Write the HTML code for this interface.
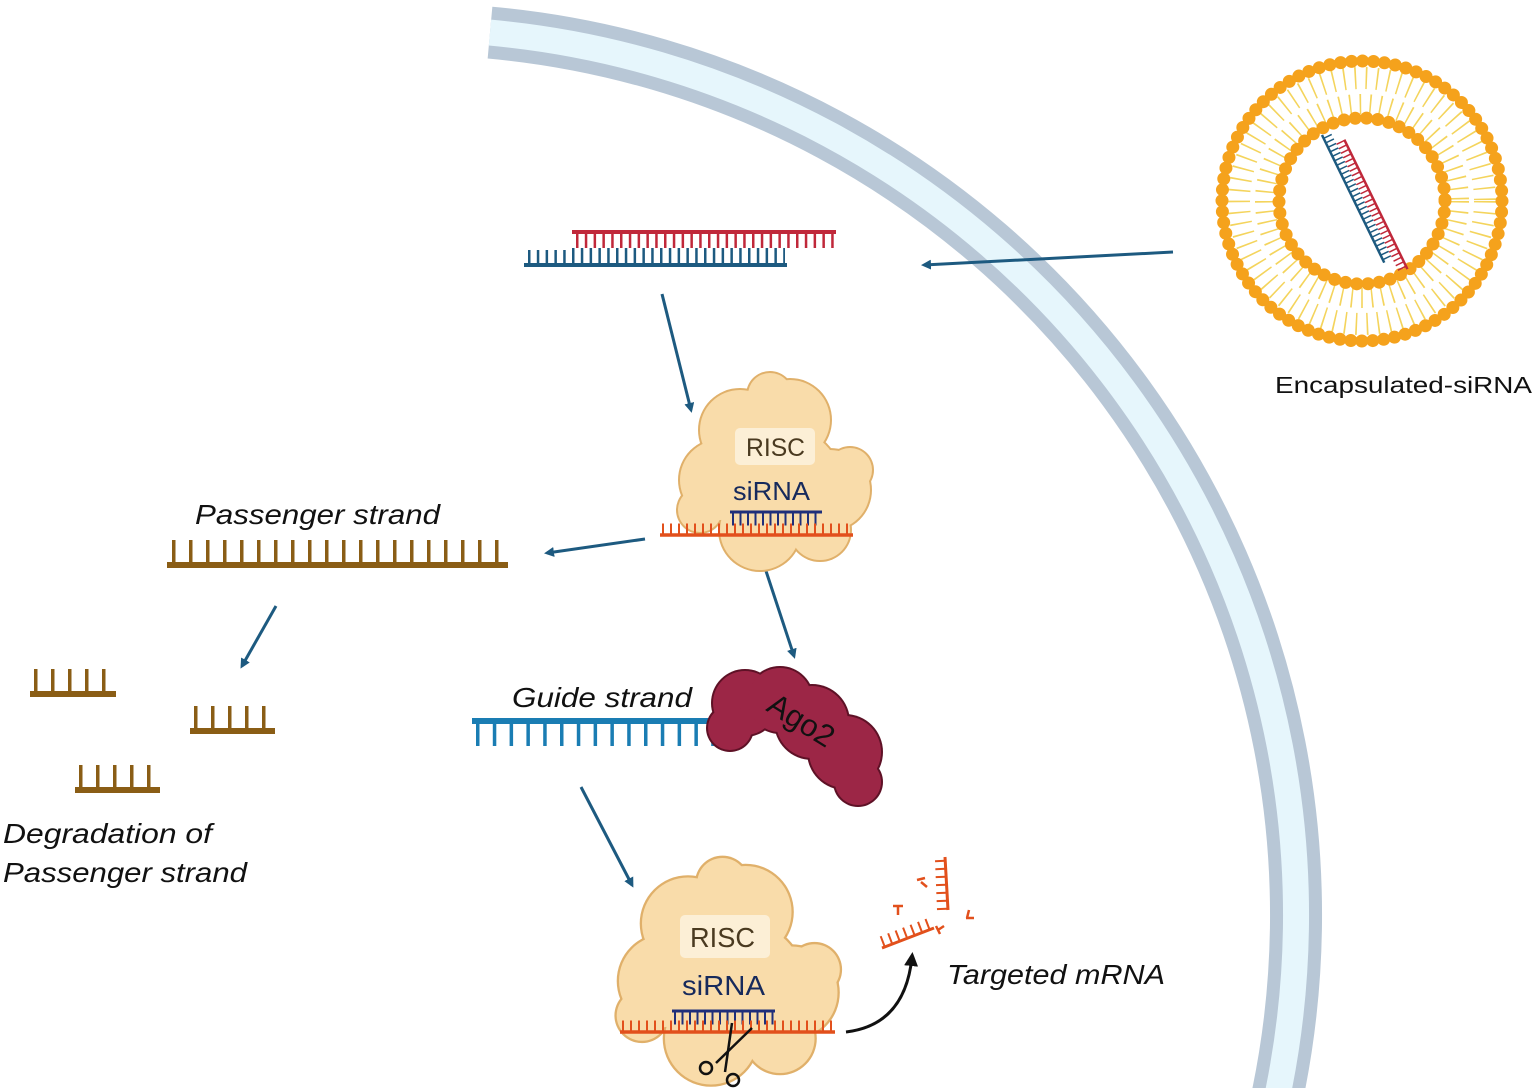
<!DOCTYPE html>
<html><head><meta charset="utf-8"><style>
html,body{margin:0;padding:0;background:#fff;overflow:hidden}
svg{display:block}
text{font-family:"Liberation Sans",sans-serif}
</style></head><body>
<svg width="1535" height="1088" viewBox="0 0 1535 1088" xmlns="http://www.w3.org/2000/svg">
<defs>
<marker id="ah" markerWidth="10" markerHeight="10" refX="7" refY="5" orient="auto" markerUnits="userSpaceOnUse">
<path d="M0,0 L10,5 L0,10 z" fill="#1d5a80"/></marker>
<marker id="ahk" markerWidth="14" markerHeight="14" refX="9" refY="7" orient="auto" markerUnits="userSpaceOnUse">
<path d="M0,0 L14,7 L0,14 z" fill="#111"/></marker>
</defs>
<!-- membrane -->
<path d="M490,32.6 A886,886 0 0 1 1276.5,1100" fill="none" stroke="#b8c7d6" stroke-width="52"/>
<path d="M490,32.6 A886,886 0 0 1 1276.5,1100" fill="none" stroke="#e6f6fc" stroke-width="26"/>

<!-- liposome -->
<g>
<circle cx="1362" cy="201" r="123" fill="none" stroke="#f4d45c" stroke-width="22" stroke-dasharray="1.6 9.4"/>
<circle cx="1362" cy="201" r="97" fill="none" stroke="#f4d45c" stroke-width="20" stroke-dasharray="1.6 8.5"/>
<circle cx="1362" cy="201" r="140" fill="none" stroke="#f5a21c" stroke-width="13" stroke-linecap="round" stroke-dasharray="0 11"/>
<circle cx="1362" cy="201" r="83" fill="none" stroke="#f5a21c" stroke-width="13" stroke-linecap="round" stroke-dasharray="0 11.3"/>
<g transform="translate(1322,135) rotate(64)">
<line x1="0" y1="0" x2="142" y2="0" stroke="#1d5a80" stroke-width="2.5"/>
<line x1="3" y1="-4.5" x2="142" y2="-4.5" stroke="#1d5a80" stroke-width="9" stroke-dasharray="1.5 3.5"/>
<line x1="14" y1="-18" x2="158" y2="-18" stroke="#c0283a" stroke-width="2.5"/>
<line x1="14" y1="-13.5" x2="158" y2="-13.5" stroke="#c0283a" stroke-width="9" stroke-dasharray="1.5 3.5"/>
</g>
</g>
<text x="1275" y="393" font-size="23" fill="#111" textLength="257" lengthAdjust="spacingAndGlyphs">Encapsulated-siRNA</text>

<!-- top siRNA -->
<line x1="572" y1="232" x2="836" y2="232" stroke="#c0283a" stroke-width="4"/>
<line x1="576" y1="240" x2="836" y2="240" stroke="#c0283a" stroke-width="16" stroke-dasharray="2.5 6.3"/>
<line x1="524" y1="265" x2="787" y2="265" stroke="#1d5a80" stroke-width="4"/>
<line x1="528" y1="256" x2="785" y2="256" stroke="#1d5a80" stroke-width="16" stroke-dasharray="2.5 6.3"/>
<rect x="520" y="242" width="50" height="8" fill="#fff"/>

<!-- arrows -->
<g stroke="#1d5a80" stroke-width="3" marker-end="url(#ah)">
<line x1="1173" y1="252" x2="924" y2="265"/>
<line x1="662" y1="294" x2="691" y2="410"/>
<line x1="645" y1="539" x2="547" y2="553"/>
<line x1="766" y1="571" x2="794" y2="656"/>
<line x1="276" y1="606" x2="242" y2="666"/>
<line x1="581" y1="787" x2="632" y2="885"/>
</g>

<!-- RISC 1 -->
<g id="risc">
<g fill="#e0b06a">
<circle cx="740" cy="430" r="42"/><circle cx="790" cy="420" r="42"/><circle cx="770" cy="395" r="24"/>
<circle cx="720" cy="480" r="42"/><circle cx="790" cy="480" r="52"/><circle cx="830" cy="490" r="42"/>
<circle cx="760" cy="530" r="42"/><circle cx="820" cy="530" r="32"/><circle cx="700" cy="510" r="24"/><circle cx="850" cy="470" r="24"/>
</g>
<g fill="#f9dcaa">
<circle cx="740" cy="430" r="40"/><circle cx="790" cy="420" r="40"/><circle cx="770" cy="395" r="22"/>
<circle cx="720" cy="480" r="40"/><circle cx="790" cy="480" r="50"/><circle cx="830" cy="490" r="40"/>
<circle cx="760" cy="530" r="40"/><circle cx="820" cy="530" r="30"/><circle cx="700" cy="510" r="22"/><circle cx="850" cy="470" r="22"/>
</g>
</g>
<rect x="735" y="428" width="80" height="37" rx="5" fill="#fcefd6"/>
<text x="746" y="456" font-size="25" fill="#4a3a20" textLength="59" lengthAdjust="spacingAndGlyphs">RISC</text>
<text x="733" y="500" font-size="26" fill="#172a5c" textLength="77" lengthAdjust="spacingAndGlyphs">siRNA</text>
<line x1="730" y1="512" x2="822" y2="512" stroke="#1f2f7a" stroke-width="3"/>
<line x1="732" y1="519" x2="822" y2="519" stroke="#1f2f7a" stroke-width="13" stroke-dasharray="2 5.5"/>
<line x1="660" y1="535" x2="853" y2="535" stroke="#e2501c" stroke-width="3.5"/>
<line x1="662" y1="529" x2="853" y2="529" stroke="#e2501c" stroke-width="11" stroke-dasharray="2 6"/>

<!-- passenger strand -->
<text x="195" y="524" font-size="28" font-style="italic" fill="#111" textLength="245" lengthAdjust="spacingAndGlyphs">Passenger strand</text>
<line x1="167" y1="565" x2="508" y2="565" stroke="#8a5d15" stroke-width="6"/>
<line x1="172" y1="552" x2="508" y2="552" stroke="#8a5d15" stroke-width="24" stroke-dasharray="3.5 13.5"/>
<g stroke="#8a5d15">
<line x1="30" y1="694" x2="116" y2="694" stroke-width="6"/><line x1="34" y1="681" x2="116" y2="681" stroke-width="24" stroke-dasharray="3.5 13.5"/>
<line x1="190" y1="731" x2="275" y2="731" stroke-width="6"/><line x1="194" y1="718" x2="275" y2="718" stroke-width="24" stroke-dasharray="3.5 13.5"/>
<line x1="75" y1="790" x2="160" y2="790" stroke-width="6"/><line x1="79" y1="777" x2="160" y2="777" stroke-width="24" stroke-dasharray="3.5 13.5"/>
</g>
<text x="3" y="843" font-size="28" font-style="italic" fill="#111" textLength="209" lengthAdjust="spacingAndGlyphs">Degradation of</text>
<text x="3" y="882" font-size="28" font-style="italic" fill="#111" textLength="244" lengthAdjust="spacingAndGlyphs">Passenger strand</text>

<!-- guide strand -->
<text x="512" y="707" font-size="28" font-style="italic" fill="#111" textLength="180" lengthAdjust="spacingAndGlyphs">Guide strand</text>
<line x1="472" y1="721" x2="728" y2="721" stroke="#1a7db3" stroke-width="6"/>
<line x1="476" y1="734" x2="728" y2="734" stroke="#1a7db3" stroke-width="24" stroke-dasharray="3.5 13.3"/>
<!-- Ago2 -->
<g fill="#5e1126">
<circle cx="745" cy="703" r="34"/><circle cx="780" cy="700" r="34"/><circle cx="812" cy="722" r="38"/>
<circle cx="845" cy="752" r="38"/><circle cx="858" cy="782" r="25"/><circle cx="730" cy="728" r="24"/>
</g>
<g fill="#9c2646">
<circle cx="745" cy="703" r="32"/><circle cx="780" cy="700" r="32"/><circle cx="812" cy="722" r="36"/>
<circle cx="845" cy="752" r="36"/><circle cx="858" cy="782" r="23"/><circle cx="730" cy="728" r="22"/>
</g>
<text x="0" y="0" font-size="31" fill="#111" transform="translate(765,710) rotate(32)">Ago2</text>

<!-- RISC 2 -->
<use href="#risc" transform="translate(-163,429) scale(1.15)"/>
<rect x="680" y="915" width="90" height="43" rx="5" fill="#fcefd6"/>
<text x="690" y="947" font-size="28" fill="#4a3a20" textLength="65" lengthAdjust="spacingAndGlyphs">RISC</text>
<text x="682" y="995" font-size="28" fill="#172a5c" textLength="83" lengthAdjust="spacingAndGlyphs">siRNA</text>
<line x1="672" y1="1011" x2="775" y2="1011" stroke="#1f2f7a" stroke-width="3"/>
<line x1="674" y1="1018" x2="775" y2="1018" stroke="#1f2f7a" stroke-width="13" stroke-dasharray="2 5.5"/>
<line x1="620" y1="1032" x2="835" y2="1032" stroke="#e2501c" stroke-width="3.5"/>
<line x1="622" y1="1026" x2="835" y2="1026" stroke="#e2501c" stroke-width="11" stroke-dasharray="2 6"/>
<!-- scissors -->
<g stroke="#111" stroke-width="2.5" fill="none">
<line x1="732" y1="1023" x2="725" y2="1072"/><line x1="752" y1="1028" x2="716" y2="1063"/>
<circle cx="706" cy="1068" r="6"/><circle cx="733" cy="1080" r="6"/>
</g>
<!-- curved arrow -->
<path d="M846,1032 Q905,1025 912,957" fill="none" stroke="#111" stroke-width="3" marker-end="url(#ahk)"/>
<!-- mRNA fragments -->
<g stroke="#e2501c">
<line x1="882" y1="948" x2="934" y2="928" stroke-width="3"/>
<g transform="translate(882,948) rotate(-21)"><line x1="2" y1="-6" x2="56" y2="-6" stroke-width="11" stroke-dasharray="2 6"/></g>
<line x1="945" y1="857" x2="948" y2="910" stroke-width="3"/>
<line x1="940" y1="860" x2="942" y2="910" stroke-width="10" stroke-dasharray="2 6"/>
<path d="M898,907 l0,8 M893,906 l10,0 M921,882 l6,5 M917,880 l8,-2 M969,910 l-2,8 M966,918 l8,0 M938,930 l6,-4 M936,926 l4,8" stroke-width="2.5" fill="none"/>
</g>
<text x="947" y="984" font-size="28" font-style="italic" fill="#111" textLength="218" lengthAdjust="spacingAndGlyphs">Targeted mRNA</text>
</svg>
</body></html>
